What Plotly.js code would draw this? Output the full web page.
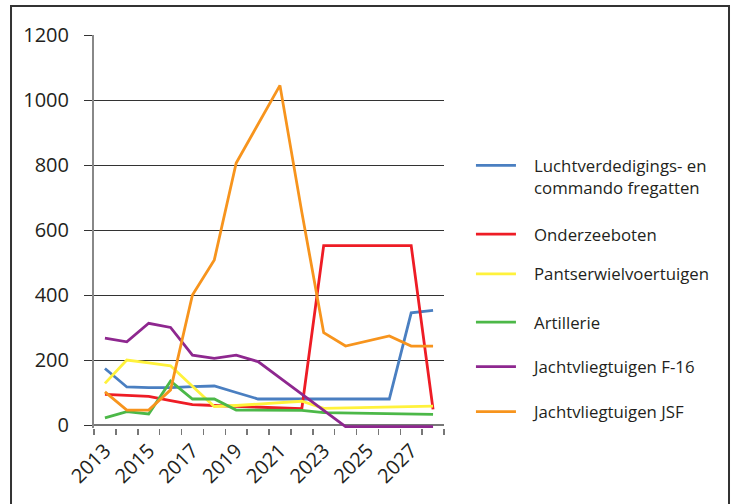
<!DOCTYPE html>
<html>
<head>
<meta charset="utf-8">
<script src="https://cdn.plot.ly/plotly-3.0.1.min.js"></script>
<style>html,body{margin:0;padding:0;background:#fff;}#chart{width:736px;height:504px;}</style>
</head>
<body>
<div id="chart"></div>
<script>
var years = [2013,2014,2015,2016,2017,2018,2019,2020,2021,2022,2023,2024,2025,2026,2027,2028];
var tickYears = [2013,2015,2017,2019,2021,2023,2025,2027];
var seriesNames = ['Luchtverdedigings- en<br>commando fregatten','Onderzeeboten','Pantserwielvoertuigen','Artillerie','Jachtvliegtuigen F-16','Jachtvliegtuigen JSF'];
var fregatten = [174,117,115,115,118,120,100,80,80,80,80,80,80,80,345,353];
var onderzeeboten = [94,92,88,75,63,60,57,55,52,50,552,552,552,552,552,48];
var pantserwiel = [128,200,191,182,119,57,60,64,68,73,51,52,53,54,56,58];
var artillerie = [22,41,34,135,80,80,46,46,46,45,38,37,36,35,34,33];
var f16 = [267,256,313,300,215,205,215,195,145,95,45,-5,-5,-5,-5,-5];
var jsf = [102,46,46,108,400,508,806,925,1045,655,284,243,258,274,243,243];
var yTicks = [0,200,400,600,800,1000,1200];

var colors = ['#4a7fc1','#ee1c25','#fff23c','#4cb848','#8e278f','#f7941d'];
var allSeries = [fregatten,onderzeeboten,pantserwiel,artillerie,f16,jsf];
var legendIds = ['legend','legend2','legend3','legend4','legend5','legend6'];
var legendY = [0.640,0.4929,0.3919,0.2690,0.1560,0.0415];

var font = "'Open Sans', 'Noto Sans', sans-serif";
var txt = '#231f20';
var pad = '\u00a0\u00a0\u00a0';

var traces = allSeries.map(function(s,i){
  var nm = seriesNames[i].split('<br>').map(function(p){return pad + p;}).join('<br>');
  return {x: years, y: s, type:'scatter', mode:'lines', name: nm, showlegend:true,
    line:{color:colors[i], width:2.8}, legend: legendIds[i]};
});

var layout = {
  width:736, height:504,
  showlegend:true,
  margin:{l:94, r:292, t:35, b:76},
  paper_bgcolor:'#fff', plot_bgcolor:'#fff',
  font:{family:font, color:txt},
  xaxis:{range:[2012.5,2028.5], tickmode:'array', tickvals:tickYears, ticktext:tickYears.map(String),
    ticks:'', tickangle:-45, tickfont:{size:20, color:txt}, showgrid:false, zeroline:false, showline:false,
    ticklabelstandoff:6,
    minor:{tickmode:'linear', tick0:2012.5, dtick:1, ticks:'outside', ticklen:6, tickwidth:1.5, tickcolor:'#777', showgrid:false}},
  yaxis:{range:[-9.23,1200], tickmode:'array', tickvals:yTicks, ticks:'outside', ticklen:8, tickcolor:'#333', tickwidth:1,
    showgrid:true, gridcolor:'#333', gridwidth:1, zeroline:true, zerolinecolor:'#777', zerolinewidth:2,
    showline:true, linecolor:'#888', linewidth:2, tickfont:{size:20, color:txt}, ticklabelstandoff:11},
  shapes:[{type:'rect', xref:'paper', yref:'paper', x0:-0.2371, x1:1.8143, y0:-0.25, y1:1.0738,
    line:{color:'#333', width:2}, fillcolor:'rgba(0,0,0,0)'}]
};
legendIds.forEach(function(id,i){
  layout[id] = {visible:true, x:1.077, xanchor:'left', y:legendY[i], yanchor:'middle', bgcolor:'rgba(0,0,0,0)',
    font:{size:16.8, color:txt, family:font}, itemwidth:40, valign: i===0 ? 'top' : 'middle', borderwidth:0};
});

Plotly.newPlot('chart', traces, layout, {displayModeBar:false, staticPlot:true});
</script>
</body>
</html>
